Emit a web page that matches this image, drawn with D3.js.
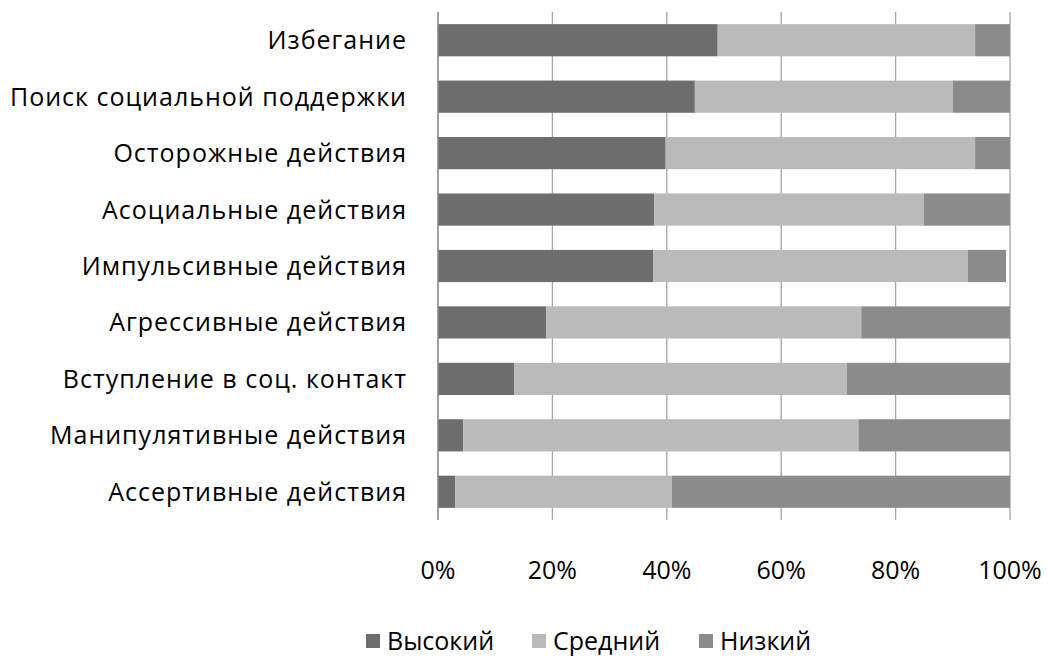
<!DOCTYPE html>
<html>
<head>
<meta charset="utf-8">
<script src="https://cdn.jsdelivr.net/npm/d3@7"></script>
<style>
  html, body { margin: 0; padding: 0; background: #fff; }
  svg { display: block; }
  text { font-family: "Open Sans", "DejaVu Sans", sans-serif; fill: #000; }
</style>
</head>
<body>
<svg id="chart" width="1048" height="661"></svg>
<script>
// Coping strategies and share of respondents by level
const categories = [
  "Избегание",
  "Поиск социальной поддержки",
  "Осторожные действия",
  "Асоциальные действия",
  "Импульсивные действия",
  "Агрессивные действия",
  "Вступление в соц. контакт",
  "Манипулятивные действия",
  "Ассертивные действия"
];
const seriesNames = ["Высокий", "Средний", "Низкий"];
const high   = [48.9, 44.9, 39.8, 37.8, 37.6, 18.9, 13.3, 4.4, 3.0];
const medium = [45.0, 45.1, 54.1, 47.1, 55.0, 55.1, 58.2, 69.1, 37.9];
const low    = [6.1, 10.0, 6.1, 15.1, 6.7, 26.0, 28.5, 26.5, 59.1];
const tickValues = [0, 20, 40, 60, 80, 100];
const colors = ["#6d6d6d", "#bababa", "#8b8b8b"];

const svg = d3.select("#chart");
const margin = { left: 438, right: 38, top: 12, bottom: 141 };
const W = 1048, H = 661;

const x = d3.scaleLinear().domain([0, 100]).range([margin.left, W - margin.right]);
const y = d3.scaleBand().domain(categories).range([margin.top, H - margin.bottom])
  .paddingInner(0.43).paddingOuter(0.215);

const rows = categories.map((c, i) => ({ category: c, "Высокий": high[i], "Средний": medium[i], "Низкий": low[i] }));
const stacked = d3.stack().keys(seriesNames)(rows);

// vertical gridlines
svg.append("g").selectAll("line").data(tickValues).join("line")
  .attr("x1", d => x(d)).attr("x2", d => x(d))
  .attr("y1", margin.top).attr("y2", H - margin.bottom)
  .attr("stroke", "#a6a6a6").attr("stroke-width", 1.3);

// stacked bars
svg.append("g").selectAll("g").data(stacked).join("g")
  .attr("fill", (d, i) => colors[i])
  .selectAll("rect").data(d => d).join("rect")
  .attr("x", d => x(d[0]))
  .attr("width", d => x(d[1]) - x(d[0]))
  .attr("y", d => y(d.data.category))
  .attr("height", y.bandwidth());

// category axis line
svg.append("line")
  .attr("x1", x(0)).attr("x2", x(0))
  .attr("y1", margin.top).attr("y2", H - margin.bottom)
  .attr("stroke", "#8c8c8c").attr("stroke-width", 1.3);

// category labels
svg.append("g").selectAll("text").data(categories).join("text")
  .attr("x", 407)
  .attr("y", d => y(d) + y.bandwidth() / 2)
  .attr("dy", "0.36em")
  .attr("text-anchor", "end")
  .style("font-size", "25px")
  .style("letter-spacing", "1px")
  .text(d => d);

// percentage axis labels
svg.append("g").selectAll("text").data(tickValues).join("text")
  .attr("x", d => x(d))
  .attr("y", 570)
  .attr("dy", "0.36em")
  .attr("text-anchor", "middle")
  .style("font-size", "25px")
  .text(d => d3.format("d")(d) + "%");

// legend
const legendX = [366, 532, 699];
const lg = svg.append("g").selectAll("g").data(seriesNames).join("g")
  .attr("transform", (d, i) => `translate(${legendX[i]},641)`);
lg.append("rect").attr("x", 0).attr("y", -7).attr("width", 14).attr("height", 14)
  .attr("fill", (d, i) => colors[i]);
lg.append("text").attr("x", 21).attr("y", 0).attr("dy", "0.36em")
  .style("font-size", "25px").text(d => d);
</script>
</body>
</html>
